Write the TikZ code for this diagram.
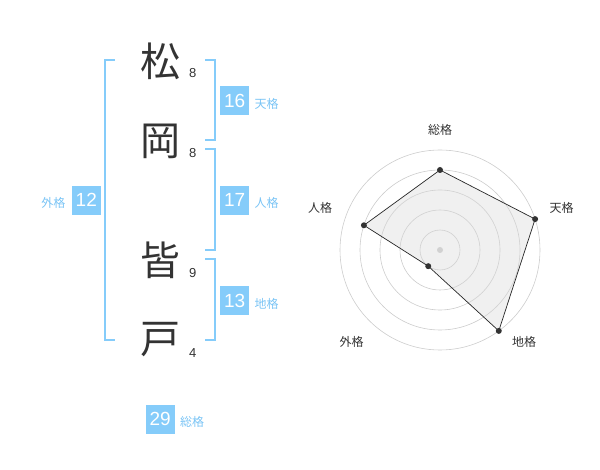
\documentclass[tikz,border=0pt]{standalone}
\usepackage{fontspec}
\setmainfont{Liberation Sans}
\newfontfamily\jpfont{Noto Sans CJK JP}
\usetikzlibrary{positioning}
\definecolor{kakublue}{RGB}{133,204,250}
\definecolor{kakulabel}{RGB}{122,196,245}

\begin{document}
\begin{tikzpicture}[x=1pt,y=-1pt,
  bracket/.style={kakublue,line width=1.6pt},
  kanji/.style={font=\jpfont\fontsize{40}{40}\selectfont,text=black!80},
  strokes/.style={font=\fontsize{13}{13}\selectfont,text=black!80},
  numbox/.style={fill=kakublue,text=white,minimum size=29pt,inner sep=0pt,font=\fontsize{19}{19}\selectfont},
  kakuname/.style={font=\jpfont\fontsize{12}{12}\selectfont,text=kakulabel,inner sep=0pt},
  ring/.style={black!20,line width=0.6pt},
  axisname/.style={font=\jpfont\fontsize{12}{12}\selectfont,text=black!80},
  dot/.style={circle,fill=black!80,inner sep=0pt,minimum size=6pt}]
\useasboundingbox (0,0) rectangle (600,470);
% name
\node [kanji] (k1) at (160,61.7) {松};
\node [kanji] (k2) at (160,141.7) {岡};
\node [kanji] (k3) at (160,260) {皆};
\node [kanji] (k4) at (160,340) {戸};
\node [strokes] (s1) at (192.7,72.7) {8};
\node [strokes] (s2) at (192.7,152.7) {8};
\node [strokes] (s3) at (192.7,272.7) {9};
\node [strokes] (s4) at (192.7,352.7) {4};
% brackets
\draw [bracket] (115,60)--(105,60)--(105,340)--(115,340);
\draw [bracket] (205,60)--(215,60)--(215,140)--(205,140);
\draw [bracket] (205,149.3)--(215,149.3)--(215,250)--(205,250);
\draw [bracket] (205,259.3)--(215,259.3)--(215,340)--(205,340);
% boxes
\node [numbox] (ten) at (234.7,100.5) {16};
\node [kakuname,right=5pt of ten,yshift=-3pt] (tenname) {天格};
\node [numbox] (jin) at (234.7,200.3) {17};
\node [kakuname,right=5pt of jin,yshift=-3pt] (jinname) {人格};
\node [numbox] (chi) at (234.7,300.5) {13};
\node [kakuname,right=5pt of chi,yshift=-3pt] (chiname) {地格};
\node [numbox] (gai) at (86.3,200.3) {12};
\node [kakuname,left=6pt of gai,yshift=-3pt] (gainame) {外格};
\node [numbox] (sou) at (160.2,419.2) {29};
\node [kakuname,right=5pt of sou,yshift=-3pt] (souname) {総格};
% radar
\begin{scope}[shift={(440,250)},yscale=-1]
\foreach \r in {20,40,60,80,100}
  \draw [ring] (0,0) circle (\r);
\fill [black!20] (0,0) circle (3);
\coordinate (psou) at (90:80);
\coordinate (pten) at (18:100);
\coordinate (pchi) at (-54:100);
\coordinate (pgai) at (-126:20);
\coordinate (pjin) at (162:80);
\filldraw [fill=black!15,fill opacity=0.4,draw=black!85,line width=0.7pt]
  (psou)--(pten)--(pchi)--(pgai)--(pjin)--cycle;
\foreach \p in {psou,pten,pchi,pgai,pjin}
  \node [dot] at (\p) {};
\node [axisname] (asou) at (0,120) {総格};
\node [axisname] (aten) at (121.7,41.7) {天格};
\node [axisname] (achi) at (84,-91.7) {地格};
\node [axisname] (agai) at (-88.3,-91.7) {外格};
\node [axisname] (ajin) at (-120,41.7) {人格};
\end{scope}
\end{tikzpicture}
\end{document}
